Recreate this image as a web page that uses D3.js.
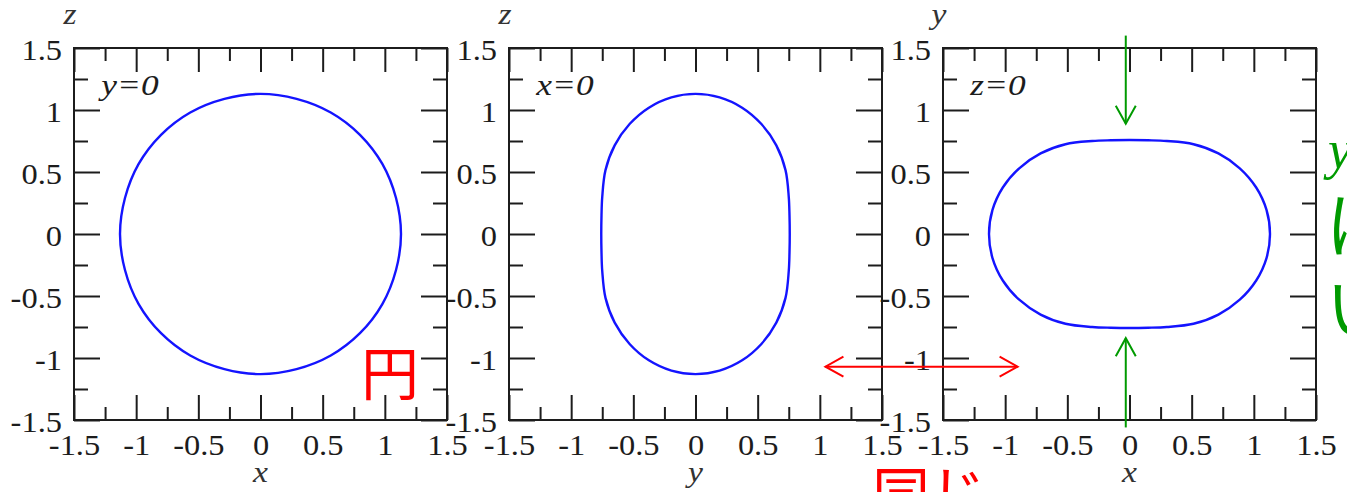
<!DOCTYPE html>
<html>
<head>
<meta charset="utf-8">
<script src="https://cdn.jsdelivr.net/npm/d3@7"></script>
<style>
  body { margin: 0; background: #fff; }
  svg { display: block; }
</style>
</head>
<body>
<svg id="chart" width="1347" height="492"></svg>
<script>
// Axis ticks shared by all three panels
const majorTicks = [-1.5, -1, -0.5, 0, 0.5, 1, 1.5];
const majorLabels = ["-1.5", "-1", "-0.5", "0", "0.5", "1", "1.5"];
const minorTicks = [-1.25, -0.75, -0.25, 0.25, 0.75, 1.25];

// Panel annotations
const sliceNames = ["y=0", "x=0", "z=0"];
const hTitles = ["x", "y", "x"];
const vTitles = ["z", "z", "y"];

// Cross-section y=0 : (x, z)
const cutY0_h = [1.13, 1.09, 0.98, 0.80, 0.565, 0.29, 0, -0.29, -0.565, -0.80, -0.98, -1.09,
                 -1.13, -1.09, -0.98, -0.80, -0.565, -0.29, 0, 0.29, 0.565, 0.80, 0.98, 1.09];
const cutY0_v = [0, 0.29, 0.565, 0.80, 0.98, 1.09, 1.13, 1.09, 0.98, 0.80, 0.565, 0.29,
                 0, -0.29, -0.565, -0.80, -0.98, -1.09, -1.13, -1.09, -0.98, -0.80, -0.565, -0.29];

// Cross-section x=0 : (y, z)
const cutX0_h = [0, 0.194, 0.375, 0.53, 0.65, 0.724, 0.75, 0.756, 0.758, 0.756, 0.75, 0.724, 0.65, 0.53, 0.375, 0.194,
                 0, -0.194, -0.375, -0.53, -0.65, -0.724, -0.75, -0.756, -0.758, -0.756, -0.75, -0.724, -0.65, -0.53, -0.375, -0.194];
const cutX0_v = [1.13, 1.102, 1.019, 0.887, 0.715, 0.515, 0.30, 0.15, 0, -0.15, -0.30, -0.515, -0.715, -0.887, -1.019, -1.102,
                 -1.13, -1.102, -1.019, -0.887, -0.715, -0.515, -0.30, -0.15, 0, 0.15, 0.30, 0.515, 0.715, 0.887, 1.019, 1.102];

// Cross-section z=0 : (x, y)
const cutZ0_h = [1.13, 1.102, 1.019, 0.887, 0.715, 0.515, 0.30, 0.15, 0, -0.15, -0.30, -0.515, -0.715, -0.887, -1.019, -1.102,
                 -1.13, -1.102, -1.019, -0.887, -0.715, -0.515, -0.30, -0.15, 0, 0.15, 0.30, 0.515, 0.715, 0.887, 1.019, 1.102];
const cutZ0_v = [0, 0.194, 0.375, 0.53, 0.65, 0.724, 0.75, 0.756, 0.758, 0.756, 0.75, 0.724, 0.65, 0.53, 0.375, 0.194,
                 0, -0.194, -0.375, -0.53, -0.65, -0.724, -0.75, -0.756, -0.758, -0.756, -0.75, -0.724, -0.65, -0.53, -0.375, -0.194];

const cutsH = [cutY0_h, cutX0_h, cutZ0_h];
const cutsV = [cutY0_v, cutX0_v, cutZ0_v];

// Layout
const panelLefts = [74, 509, 943];
const panelTop = 48;
const W = 373, H = 372;
const ink = "#1c1c1c";
const SERIF = "Liberation Serif";
const CJK = "Noto Sans CJK JP";
const stretch = 1.12;   // wide-set serif lettering

const svg = d3.select("#chart");
svg.append("rect").attr("width", 1347).attr("height", 492).attr("fill", "#fff");

function serifText(sel, italic) {
  sel.style("font-family", SERIF).style("font-style", italic ? "italic" : "normal");
}

const scales = [];

panelLefts.forEach((left, i) => {
  const x = d3.scaleLinear().domain([-1.5, 1.5]).range([0, W]);
  const y = d3.scaleLinear().domain([-1.5, 1.5]).range([H, 0]);
  scales.push({ x, y, left });

  const g = svg.append("g").attr("transform", `translate(${left},${panelTop})`);

  // Outline curve
  const pts = cutsH[i].map((h, k) => [h, cutsV[i][k]]);
  const line = d3.line()
    .x(d => x(d[0])).y(d => y(d[1]))
    .curve(d3.curveCatmullRomClosed.alpha(0.5));
  g.append("path")
    .attr("d", line(pts))
    .attr("fill", "none")
    .attr("stroke", "#1414ff")
    .attr("stroke-width", 2.4);

  const fmt = (d) => majorLabels[majorTicks.indexOf(d)];

  // Bottom axis with labels
  const bottom = g.append("g").attr("transform", `translate(0,${H})`)
    .call(d3.axisBottom(x).tickValues(majorTicks).tickSize(-25).tickSizeOuter(0)
      .tickPadding(14).tickFormat(fmt));
  const bottomMinor = g.append("g").attr("transform", `translate(0,${H})`)
    .call(d3.axisBottom(x).tickValues(minorTicks).tickSize(-13).tickFormat(""));

  // Left axis with labels
  const leftAx = g.append("g")
    .call(d3.axisLeft(y).tickValues(majorTicks).tickSize(-26).tickSizeOuter(0)
      .tickPadding(12).tickFormat(fmt));
  const leftMinor = g.append("g")
    .call(d3.axisLeft(y).tickValues(minorTicks).tickSize(-14).tickFormat(""));

  // Top and right mirror ticks
  const topAx = g.append("g")
    .call(d3.axisTop(x).tickValues(majorTicks).tickSize(-24).tickFormat(""));
  const topMinor = g.append("g")
    .call(d3.axisTop(x).tickValues(minorTicks).tickSize(-13).tickFormat(""));
  const rightAx = g.append("g").attr("transform", `translate(${W},0)`)
    .call(d3.axisRight(y).tickValues(majorTicks).tickSize(-26).tickFormat(""));
  const rightMinor = g.append("g").attr("transform", `translate(${W},0)`)
    .call(d3.axisRight(y).tickValues(minorTicks).tickSize(-14).tickFormat(""));

  [bottom, bottomMinor, leftAx, leftMinor, topAx, topMinor, rightAx, rightMinor].forEach(a => {
    a.select(".domain").remove();
    a.selectAll(".tick line").attr("stroke", ink).attr("stroke-width", 2);
  });

  bottom.selectAll(".tick text")
    .call(serifText, false)
    .attr("font-size", 29).attr("fill", ink)
    .attr("dy", "0.71em")
    .each(function () {
      const t = d3.select(this);
      const yy = +t.attr("y");
      t.attr("y", null).attr("transform", `translate(0,${yy}) scale(${stretch},1)`);
    });
  leftAx.selectAll(".tick text")
    .call(serifText, false)
    .attr("font-size", 29).attr("fill", ink)
    .attr("dy", "0.40em")
    .attr("x", null)
    .attr("transform", `translate(-12,0) scale(${stretch},1)`);

  // Frame
  g.append("rect")
    .attr("width", W).attr("height", H)
    .attr("fill", "none").attr("stroke", ink).attr("stroke-width", 2);

  // Slice label
  g.append("text")
    .call(serifText, true)
    .attr("transform", `translate(${x(-1.28)},${y(1.12)}) scale(1.22,1)`)
    .attr("font-size", 29).attr("fill", ink)
    .text(sliceNames[i]);

  // Axis titles
  g.append("text")
    .call(serifText, true)
    .attr("transform", `translate(${x(-1.5) - 4},${-24}) scale(${stretch},1)`)
    .attr("text-anchor", "middle")
    .attr("font-size", 30).attr("fill", "#333")
    .text(vTitles[i]);
  g.append("text")
    .call(serifText, true)
    .attr("transform", `translate(${x(0)},${H + 62}) scale(${stretch},1)`)
    .attr("text-anchor", "middle")
    .attr("font-size", 30).attr("fill", "#333")
    .text(hTitles[i]);
});

// Annotation arrows
function arrow(x1, y1, x2, y2, color, heads) {
  const gA = svg.append("g").attr("stroke", color).attr("stroke-width", 2)
    .attr("fill", "none").attr("stroke-linecap", "butt");
  gA.append("line").attr("x1", x1).attr("y1", y1).attr("x2", x2).attr("y2", y2);
  const ang = Math.atan2(y2 - y1, x2 - x1);
  const L = 18, Wd = 10;
  const head = (px, py, a) => {
    const bx = px - L * Math.cos(a), by = py - L * Math.sin(a);
    const nx = -Math.sin(a) * Wd, ny = Math.cos(a) * Wd;
    gA.append("path").attr("d", `M${bx + nx},${by + ny}L${px},${py}L${bx - nx},${by - ny}`);
  };
  if (heads.includes("end")) head(x2, y2, ang);
  if (heads.includes("start")) head(x1, y1, ang + Math.PI);
}

const p2 = scales[1], p3 = scales[2];
const ax3 = (v) => p3.left + p3.x(v);
const ay3 = (v) => panelTop + p3.y(v);
const ax2 = (v) => p2.left + p2.x(v);
const ay2 = (v) => panelTop + p2.y(v);

// Squeeze in y on the z=0 section
arrow(ax3(-0.03), ay3(1.6), ax3(-0.03), ay3(0.89), "#009a00", ["end"]);
arrow(ax3(-0.03), ay3(-1.56), ax3(-0.03), ay3(-0.84), "#009a00", ["end"]);
// Same width across sections
arrow(ax2(1.045), ay2(-1.07), ax3(-0.9), ay2(-1.07), "#ff0000", ["start", "end"]);

// Japanese notes
svg.append("text").style("font-family", CJK)
  .attr("x", 361).attr("y", 395)
  .attr("font-size", 58).attr("fill", "#ff0000")
  .text("円");
svg.append("text").style("font-family", CJK)
  .attr("x", 872).attr("y", 515)
  .attr("font-size", 58).attr("fill", "#ff0000")
  .text("同じ");

svg.append("text").call(serifText, true)
  .attr("x", 1328).attr("y", 168)
  .attr("font-size", 54).attr("fill", "#009a00")
  .text("y");
svg.append("text").style("font-family", CJK)
  .attr("x", 1326).attr("y", 252)
  .attr("font-size", 70).attr("fill", "#009a00")
  .text("は");
svg.append("text").style("font-family", CJK)
  .attr("x", 1326).attr("y", 333)
  .attr("font-size", 68).attr("fill", "#009a00")
  .text("い");
</script>
</body>
</html>
